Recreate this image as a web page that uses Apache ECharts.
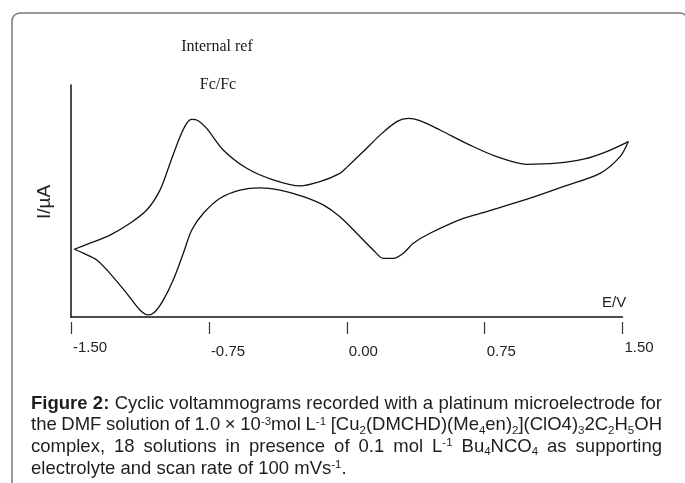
<!DOCTYPE html>
<html>
<head>
<meta charset="utf-8">
<script src="https://cdn.jsdelivr.net/npm/echarts@6/dist/echarts.min.js"></script>
<style>
  html, body { margin: 0; padding: 0; background: #fff; }
  #chart { width: 685px; height: 483px; }
</style>
</head>
<body>
<div id="chart"></div>
<script>
// ---- Data ----
// Potential axis ticks (V)
const xTicks = [-1.50, -0.75, 0.00, 0.75, 1.50];
// Forward (upper) branch: potential E/V and current (arbitrary units, 0-100 over the plot height)
const forwardE = [-1.482, -1.397, -1.288, -1.179, -1.088, -1.016, -0.961, -0.907, -0.871, -0.843, -0.808, -0.762, -0.672, -0.544, -0.400, -0.254, -0.146, -0.037, 0.000, 0.090, 0.181, 0.272, 0.335, 0.398, 0.507, 0.670, 0.816, 0.979, 1.142, 1.287, 1.414, 1.532];
const forwardI = [29.2, 31.8, 35.3, 40.4, 46.1, 54.7, 66.3, 77.7, 83.5, 85.2, 84.6, 81.3, 72.0, 64.1, 59.1, 56.5, 58.3, 61.9, 64.5, 71.3, 78.4, 84.2, 85.6, 84.6, 80.6, 74.1, 69.1, 65.8, 66.3, 68.0, 71.3, 75.6];
// Reverse (lower) branch
const reverseE = [1.532, 1.487, 1.378, 1.178, 0.997, 0.761, 0.634, 0.453, 0.362, 0.308, 0.253, 0.199, 0.144, 0.054, -0.037, -0.128, -0.236, -0.363, -0.472, -0.581, -0.689, -0.780, -0.843, -0.889, -0.944, -0.998, -1.043, -1.080, -1.125, -1.197, -1.288, -1.360, -1.433, -1.482];
const reverseI = [75.6, 69.1, 61.9, 56.2, 51.2, 45.4, 42.5, 36.1, 31.8, 27.5, 25.3, 25.3, 28.9, 36.1, 43.2, 48.3, 51.9, 54.7, 55.7, 54.7, 51.2, 44.7, 37.5, 27.5, 15.9, 7.3, 2.3, 0.9, 3.0, 10.2, 18.8, 24.6, 27.5, 29.2];

// Texts
const annotation1 = 'Internal ref';
const annotation2 = 'Fc/Fc';
const xAxisName = 'E/V';
const yAxisName = 'I/\u00B5A';
const captionLines = [
  '*Figure* *2:* Cyclic voltammograms recorded with a platinum microelectrode for',
  'the DMF solution of 1.0 \u00D7 10^{-3}mol L^{-1} [Cu_{2}(DMCHD)(Me_{4}en)_{2}](ClO4)_{3}2C_{2}H_{5}OH',
  'complex, 18 solutions in presence of 0.1 mol L^{-1} Bu_{4}NCO_{4} as supporting',
  'electrolyte and scan rate of 100 mVs^{-1}.'
];

// ---- Build ----
const SANS = '"Liberation Sans", Arial, sans-serif';
const SERIF = '"Liberation Serif", "Times New Roman", serif';
const zip = (a, b) => a.map((v, i) => [v, b[i]]);

const measureCtx = document.createElement('canvas').getContext('2d');
function fontFor(frag) {
  const size = frag.kind === 'n' ? 18.5 : 11.5;
  return (frag.bold ? 'bold ' : '') + size + 'px ' + SANS;
}
function measure(frag) {
  measureCtx.font = fontFor(frag);
  return measureCtx.measureText(frag.text).width;
}
function parseWord(word) {
  const frags = [];
  let bold = false, i = 0, cur = '';
  const flush = () => { if (cur) { frags.push({ text: cur, kind: 'n', bold }); cur = ''; } };
  while (i < word.length) {
    const c = word[i];
    if (c === '*') { flush(); bold = !bold; i++; continue; }
    if ((c === '_' || c === '^') && word[i + 1] === '{') {
      flush();
      const end = word.indexOf('}', i);
      frags.push({ text: word.slice(i + 2, end), kind: c === '_' ? 'sub' : 'sup', bold });
      i = end + 1; continue;
    }
    cur += c; i++;
  }
  flush();
  return frags;
}

const captionLeft = 31, captionRight = 662;
const baselines = [410, 431.7, 453.3, 475];
const captionGraphics = [];
captionLines.forEach((line, li) => {
  const words = line.split(' ').map(parseWord);
  const widths = words.map(fs => fs.reduce((s, f) => s + measure(f), 0));
  const total = widths.reduce((a, b) => a + b, 0);
  measureCtx.font = '18.5px ' + SANS;
  let gap = measureCtx.measureText(' ').width;
  if (li < captionLines.length - 1) gap = (captionRight - captionLeft - total) / (words.length - 1);
  let x = captionLeft;
  const base = baselines[li];
  words.forEach((fs) => {
    fs.forEach(f => {
      let cy = base - 6.5;
      if (f.kind === 'sub') cy = base - 1;
      if (f.kind === 'sup') cy = base - 10;
      captionGraphics.push({
        type: 'text', x: x, y: cy, silent: true,
        style: { text: f.text, font: fontFor(f), fill: '#1e1e1e', align: 'left', verticalAlign: 'middle' }
      });
      x += measure(f);
    });
    x += gap;
  });
});

// plot geometry: -1.5..1.5 V spans 551.5 px; the data grid extends a little further right
const plotLeft = 71, plotTop = 85, plotW = 551.5, plotH = 232;
const pxPerV = plotW / 3;
const dataMax = 1.56;
const dataW = (dataMax - xTicks[0]) * pxPerV;

const hiddenAxis = {
  axisLine: { show: false }, axisTick: { show: false }, axisLabel: { show: false }, splitLine: { show: false }
};

const chart = echarts.init(document.getElementById('chart'), null, { renderer: 'canvas' });
chart.setOption({
  animation: false,
  backgroundColor: '#ffffff',
  grid: [
    { left: plotLeft, top: plotTop, width: plotW, height: plotH, containLabel: false },
    { left: plotLeft, top: plotTop, width: dataW, height: plotH, containLabel: false }
  ],
  xAxis: [
    {
      gridIndex: 0, type: 'value', min: xTicks[0], max: xTicks[xTicks.length - 1], interval: 0.75,
      axisLine: { show: true, onZero: false, lineStyle: { color: '#111', width: 1.5 } },
      axisTick: { show: false }, axisLabel: { show: false }, splitLine: { show: false }
    },
    {
      gridIndex: 0, type: 'value', position: 'bottom', offset: 5,
      min: xTicks[0], max: xTicks[xTicks.length - 1], interval: 0.75,
      axisLine: { show: false, onZero: false },
      axisTick: { show: true, length: 12, lineStyle: { color: '#333', width: 1.2 } },
      splitLine: { show: false },
      axisLabel: {
        show: true, align: 'left', margin: 18,
        formatter: v => {
          const s = v.toFixed(2);
          return (Math.abs(Math.abs(v) - 1.5) < 1e-6) ? '{e|' + s + '}' : '{m|' + s + '}';
        },
        rich: {
          e: { fontSize: 15, fontFamily: SANS, color: '#222', padding: [0, 0, 0, 2] },
          m: { fontSize: 15, fontFamily: SANS, color: '#222', padding: [4, 0, 0, 2] }
        }
      }
    },
    Object.assign({ gridIndex: 1, type: 'value', min: xTicks[0], max: dataMax }, hiddenAxis)
  ],
  yAxis: [
    {
      gridIndex: 0, type: 'value', min: 0, max: 100,
      axisLine: { show: true, onZero: false, lineStyle: { color: '#111', width: 1.5 } },
      axisTick: { show: false }, axisLabel: { show: false }, splitLine: { show: false }
    },
    Object.assign({ gridIndex: 1, type: 'value', min: 0, max: 100 }, hiddenAxis)
  ],
  series: [
    {
      type: 'line', name: 'forward', xAxisIndex: 2, yAxisIndex: 1, clip: false,
      data: zip(forwardE, forwardI), showSymbol: false, smooth: 0.3,
      lineStyle: { color: '#111', width: 1.3 }
    },
    {
      type: 'line', name: 'reverse', xAxisIndex: 2, yAxisIndex: 1, clip: false,
      data: zip(reverseE, reverseI), showSymbol: false, smooth: 0.3,
      lineStyle: { color: '#111', width: 1.3 }
    }
  ],
  graphic: [
    {
      type: 'rect', silent: true, z: -1,
      shape: { x: 12, y: 13, width: 676, height: 500, r: 8 },
      style: { fill: 'none', stroke: '#7a7a7a', lineWidth: 1.5 }
    },
    {
      type: 'text', x: 217, y: 47, silent: true,
      style: { text: annotation1, font: '16px ' + SERIF, fill: '#1a1a1a', align: 'center', verticalAlign: 'middle' }
    },
    {
      type: 'text', x: 218, y: 85, silent: true,
      style: { text: annotation2, font: '16px ' + SERIF, fill: '#1a1a1a', align: 'center', verticalAlign: 'middle' }
    },
    {
      type: 'text', x: 602, y: 303, silent: true,
      style: { text: xAxisName, font: '15px ' + SANS, fill: '#222', align: 'left', verticalAlign: 'middle' }
    },
    {
      type: 'text', x: 45, y: 202, rotation: Math.PI / 2, silent: true,
      style: { text: yAxisName, font: '19px ' + SANS, fill: '#222', align: 'center', verticalAlign: 'middle' }
    }
  ].concat(captionGraphics)
});
</script>
</body>
</html>
